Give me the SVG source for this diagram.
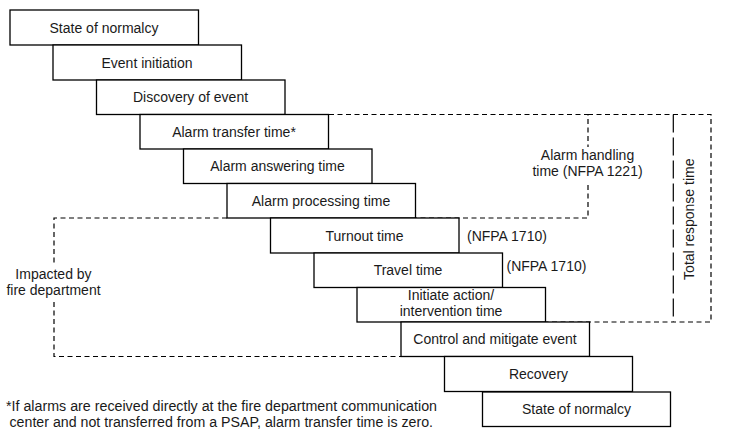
<svg xmlns="http://www.w3.org/2000/svg" width="731" height="443" viewBox="0 0 731 443">
<style>
.box rect{fill:#fff;stroke:#000;stroke-width:1.3}
text{font-family:"Liberation Sans",Arial,sans-serif;font-size:14px;fill:#1a1a1a}
.c{text-anchor:middle}
.d{fill:none;stroke:#000;stroke-width:1.2;stroke-dasharray:5 3.5}
.l{fill:none;stroke:#000;stroke-width:1.2;stroke-dasharray:18 5}
</style>
<rect width="731" height="443" fill="#fff"/>
<g id="connectors">
<path class="d" d="M329 114.5H588V147"/>
<path class="d" d="M588 185V218H415.5"/>
<path class="d" d="M588 114.5H711V322H545.5"/>
<path class="l" d="M673.3 114.5V322"/>
<path class="d" d="M227 218H54V266"/>
<path class="d" d="M54 302V356.5H401"/>
</g>
<g id="n1" class="box"><rect x="10" y="10" width="188.5" height="35"/><text class="c" x="104" y="32.5">State of normalcy</text></g>
<g id="n2" class="box"><rect x="53" y="45" width="188.5" height="35"/><text class="c" x="147" y="67.5">Event initiation</text></g>
<g id="n3" class="box"><rect x="96.5" y="80" width="188.5" height="34.5"/><text class="c" x="190.5" y="102.3">Discovery of event</text></g>
<g id="n4" class="box"><rect x="140" y="114.5" width="188.5" height="34.5"/><text class="c" x="234" y="136.8">Alarm transfer time*</text></g>
<g id="n5" class="box"><rect x="183.5" y="149" width="188.5" height="34.5"/><text class="c" x="277.5" y="171.3">Alarm answering time</text></g>
<g id="n6" class="box"><rect x="227" y="183.5" width="188.5" height="34.5"/><text class="c" x="321" y="205.8">Alarm processing time</text></g>
<g id="n7" class="box"><rect x="270.5" y="218" width="188.5" height="35"/><text class="c" x="364.5" y="240.5">Turnout time</text></g>
<g id="n8" class="box"><rect x="314" y="253" width="188.5" height="34.5"/><text class="c" x="408" y="275.3">Travel time</text></g>
<g id="n9" class="box"><rect x="357" y="287.5" width="188.5" height="34.5"/><text class="c" x="451" y="299.5">Initiate action/</text><text class="c" x="451" y="315.5">intervention time</text></g>
<g id="n10" class="box"><rect x="401" y="322" width="188.5" height="34.5"/><text class="c" x="495" y="344.3">Control and mitigate event</text></g>
<g id="n11" class="box"><rect x="444.5" y="356.5" width="188" height="35"/><text class="c" x="538.5" y="379">Recovery</text></g>
<g id="n12" class="box"><rect x="482.5" y="392" width="188" height="34.5"/><text class="c" x="576.5" y="414.3">State of normalcy</text></g>
<g id="labels">
<text class="c" x="587.5" y="160">Alarm handling</text>
<text class="c" x="587.5" y="176">time (NFPA 1221)</text>
<text x="467" y="240.5">(NFPA 1710)</text>
<text x="506.5" y="271">(NFPA 1710)</text>
<text class="c" x="53.5" y="279">Impacted by</text>
<text class="c" x="53.5" y="295">fire department</text>
<text class="c" transform="translate(694 219.2) rotate(-90)">Total response time</text>
<text x="6" y="410.5" textLength="431" lengthAdjust="spacingAndGlyphs">*If alarms are received directly at the fire department communication</text>
<text x="9.5" y="426.5" textLength="423.5" lengthAdjust="spacingAndGlyphs">center and not transferred from a PSAP, alarm transfer time is zero.</text>
</g>
</svg>
